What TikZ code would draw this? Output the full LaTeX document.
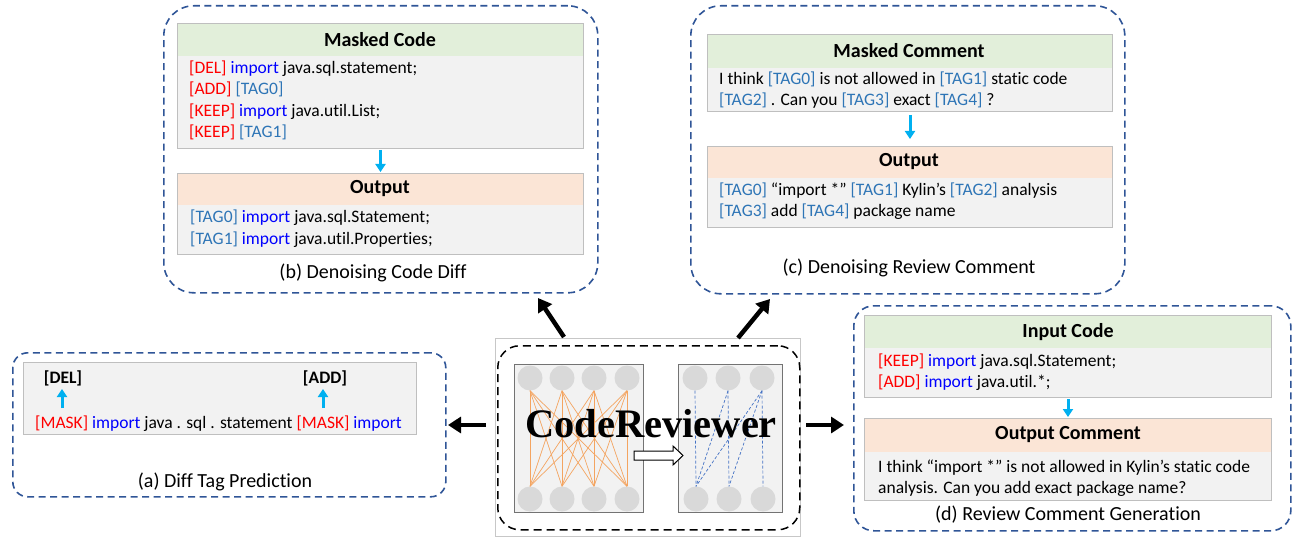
\documentclass[tikz,border=0pt]{standalone}
\usepackage{fontspec}
\setmainfont{Carlito}[Ligatures=NoCommon]
\newfontfamily\tnr{Liberation Serif}
\usetikzlibrary{arrows.meta}
\definecolor{hdrgreen}{HTML}{E2EFDA}
\definecolor{hdrorange}{HTML}{FBE5D6}
\definecolor{bodygrey}{HTML}{F2F2F2}
\definecolor{cardborder}{HTML}{BFBFBF}
\definecolor{dashblue}{HTML}{2F5597}
\definecolor{tagblue}{HTML}{2E75B6}
\definecolor{impblue}{HTML}{0000FF}
\definecolor{redtag}{HTML}{FF0000}
\definecolor{arrcyan}{HTML}{00B0F0}
\definecolor{orangeline}{HTML}{F4A460}
\definecolor{blueline}{HTML}{4472C4}
\definecolor{neurongrey}{HTML}{D9D9D9}
\newcommand\RDc[1]{\textcolor{redtag}{#1}}
\newcommand\IMc[1]{\textcolor{impblue}{#1}}
\newcommand\TGc[1]{\textcolor{tagblue}{#1}}
\newcommand\bodyfont{\fontsize{17.5}{21}\selectfont}
\newcommand\headfont{\fontsize{20}{24}\selectfont\bfseries}
\newcommand\capfont{\fontsize{20}{24}\selectfont}
\tikzset{
  region/.style={draw=dashblue, line width=1.6pt, dash pattern=on 7pt off 4.5pt, rounded corners=#1, anchor=north west, inner sep=0},
  card/.style={draw=cardborder, fill=bodygrey, line width=1pt, anchor=north west, inner sep=0},
  hdr/.style={fill=#1, anchor=north west, inner sep=0},
  htext/.style={font=\headfont, inner sep=0},
  ln/.style={font=\bodyfont, anchor=base west, inner sep=0},
  captext/.style={font=\capfont, inner sep=0},
  cyanarr/.style={draw=arrcyan, line width=3pt, -{Triangle[width=10pt,length=8pt]}},
  bigarr/.style={draw=black, line width=4.5pt, -{Triangle[width=16pt,length=13pt]}},
  panel/.style={draw=black!55, fill=bodygrey, line width=1.2pt, anchor=north west, inner sep=0},
  neuron/.style={circle, fill=neurongrey, minimum size=25pt, inner sep=0},
  dense/.style={draw=orangeline, line width=0.7pt},
  sparse/.style={draw=blueline, line width=0.7pt, dash pattern=on 3pt off 2pt}
}
\begin{document}
\begin{tikzpicture}[x=1pt, y=-1pt]
\useasboundingbox (0,0) rectangle (1292,537);

% ---------- (b) Denoising Code Diff ----------
\node[region=30pt, minimum width=434pt, minimum height=287pt] (rb) at (163,5) {};
\node[card, minimum width=406pt, minimum height=125pt] (bmc) at (177,23) {};
\node[hdr=hdrgreen, minimum width=405pt, minimum height=32.5pt] (bmch) at (177.5,23.5) {};
\node[htext] (bmct) at (380,40) {Masked Code};
\node[ln] (bl1) at (189,74) {\RDc{[DEL]} \IMc{import} java.sql.statement;};
\node[ln] (bl2) at (189,95) {\RDc{[ADD]} \TGc{[TAG0]}};
\node[ln] (bl3) at (189,117) {\RDc{[KEEP]} \IMc{import} java.util.List;};
\node[ln] (bl4) at (189,138) {\RDc{[KEEP]} \TGc{[TAG1]}};
\node[card, minimum width=406pt, minimum height=81pt] (bout) at (177,173) {};
\node[hdr=hdrorange, minimum width=405pt, minimum height=31.5pt] (bouth) at (177.5,173.5) {};
\node[htext] (boutt) at (380,189) {Output};
\node[ln] (bo1) at (190,223) {\TGc{[TAG0]} \IMc{import} java.sql.Statement;};
\node[ln] (bo2) at (190,244) {\TGc{[TAG1]} \IMc{import} java.util.Properties;};
\draw[cyanarr, shorten <=1pt, shorten >=1pt] (bmc.south) -- (bout.north);
\node[captext] (bcap) at (373,273) {(b) Denoising Code Diff};

% ---------- (c) Denoising Review Comment ----------
\node[region=30pt, minimum width=434pt, minimum height=288pt] (rc) at (690,5) {};
\node[card, minimum width=405pt, minimum height=77pt] (cmc) at (707,34) {};
\node[hdr=hdrgreen, minimum width=404pt, minimum height=33.5pt] (cmch) at (707.5,34.5) {};
\node[htext] (cmct) at (909,51) {Masked Comment};
\node[ln] (cl1) at (719,85) {I think \TGc{[TAG0]} is not allowed in \TGc{[TAG1]} static code};
\node[ln] (cl2) at (719,106) {\TGc{[TAG2]} . Can you \TGc{[TAG3]} exact \TGc{[TAG4]} ?};
\node[card, minimum width=405pt, minimum height=81pt] (cout) at (707,146) {};
\node[hdr=hdrorange, minimum width=404pt, minimum height=31.5pt] (couth) at (707.5,146.5) {};
\node[htext] (coutt) at (909,162) {Output};
\node[ln] (co1) at (719,196) {\TGc{[TAG0]} “import *” \TGc{[TAG1]} Kylin’s \TGc{[TAG2]} analysis};
\node[ln] (co2) at (719,217) {\TGc{[TAG3]} add \TGc{[TAG4]} package name};
\draw[cyanarr, shorten <=3pt, shorten >=7pt] (cmc.south) -- (cout.north);
\node[captext] (ccap) at (909,268) {(c) Denoising Review Comment};

% ---------- (a) Diff Tag Prediction ----------
\node[region=15pt, minimum width=433pt, minimum height=144pt] (ra) at (12,352) {};
\node[card, minimum width=393pt, minimum height=72pt] (acard) at (23,362) {};
\node[font=\bodyfont\bfseries, inner sep=0] (adel) at (63,378) {[DEL]};
\node[font=\bodyfont\bfseries, inner sep=0] (aadd) at (325,378) {[ADD]};
\node[ln] (aline) at (35,428) {\RDc{[MASK]} \IMc{import} java . sql . statement \RDc{[MASK]} \IMc{import}};
\coordinate (am1) at (62,408);
\coordinate (at1) at (62,389);
\coordinate (am2) at (323,408);
\coordinate (at2) at (323,389);
\draw[cyanarr] (am1) -- (at1);
\draw[cyanarr] (am2) -- (at2);
\node[captext] (acap) at (225,482) {(a) Diff Tag Prediction};

% ---------- (d) Review Comment Generation ----------
\node[region=20pt, minimum width=437pt, minimum height=225pt] (rd) at (853,305) {};
\node[card, minimum width=407pt, minimum height=82pt] (dic) at (864,315) {};
\node[hdr=hdrgreen, minimum width=406pt, minimum height=32.5pt] (dich) at (864.5,315.5) {};
\node[htext] (dict) at (1068,332) {Input Code};
\node[ln] (dl1) at (878,366) {\RDc{[KEEP]} \IMc{import} java.sql.Statement;};
\node[ln] (dl2) at (878,387) {\RDc{[ADD]} \IMc{import} java.util.*;};
\node[card, minimum width=407pt, minimum height=82pt] (doc) at (864,418) {};
\node[hdr=hdrorange, minimum width=406pt, minimum height=33.5pt] (doch) at (864.5,418.5) {};
\node[htext] (doct) at (1068,435) {Output Comment};
\node[ln] (do1) at (878,472) {I think “import *” is not allowed in Kylin’s static code};
\node[ln] (do2) at (878,493) {analysis. Can you add exact package name?};
\draw[cyanarr, shorten <=1pt, shorten >=1pt] (dic.south) -- (doc.north);
\node[captext] (dcap) at (1068,515) {(d) Review Comment Generation};

% ---------- centre: CodeReviewer ----------
\node[draw=black!22, line width=0.8pt, anchor=north west, inner sep=0, minimum width=305pt, minimum height=198pt] (cframe) at (495,338) {};
\node[draw=black, line width=1.5pt, dash pattern=on 8pt off 5pt, rounded corners=22pt, anchor=north west, inner sep=0, minimum width=302pt, minimum height=184pt] (cdash) at (497,345) {};
\node[panel, minimum width=129pt, minimum height=148pt] (pl) at (514,364) {};
\node[panel, minimum width=104pt, minimum height=148pt] (pr) at (678,364) {};
\foreach \x [count=\i] in {530,562,594,627} {
  \node[neuron] (lt\i) at (\x,378) {};
  \node[neuron] (lb\i) at (\x,499) {};
}
\foreach \i in {1,...,4} \foreach \j in {1,...,4} \draw[dense] (lt\i.south) -- (lb\j.north);
\foreach \x/\xb [count=\i] in {695/696,728/729,762/763} {
  \node[neuron] (rt\i) at (\x,378) {};
  \node[neuron] (rb\i) at (\xb,499) {};
}
\foreach \i/\j in {1/1,2/1,2/2,3/1,3/2,3/3} \draw[sparse] (rt\i.south) -- (rb\j.north);
\draw[fill=white, draw=black, line width=1pt] (634,451) -- (673,451) -- (673,446) -- (683,455.5) -- (673,465) -- (673,460) -- (634,460) -- cycle;
\node[font=\tnr\bfseries\fontsize{40.5}{44}\selectfont, anchor=base, inner sep=0] (crtext) at (651,437) {CodeReviewer};

% ---------- big black arrows ----------
\coordinate (ub0) at (564,337);
\coordinate (ub1) at (538,298);
\coordinate (uc0) at (738,338);
\coordinate (uc1) at (770,299);
\coordinate (la0) at (486,425);
\coordinate (la1) at (448,425);
\coordinate (rd0) at (806,425);
\coordinate (rd1) at (844,425);
\draw[bigarr] (ub0) -- (ub1);
\draw[bigarr] (uc0) -- (uc1);
\draw[bigarr] (la0) -- (la1);
\draw[bigarr] (rd0) -- (rd1);
\end{tikzpicture}
\end{document}
